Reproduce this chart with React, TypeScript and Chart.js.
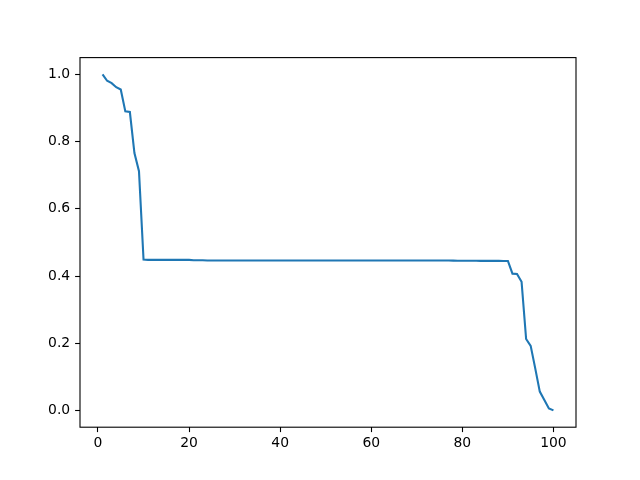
import React, { useEffect, useRef } from "react";
import { Chart, registerables } from "chart.js";

Chart.register(...registerables);

const xValues: number[] = Array.from({ length: 100 }, (_, i) => i + 1);

const headValues: number[] = [1.0, 0.981, 0.974, 0.962, 0.955, 0.89, 0.888, 0.766, 0.712];
const plateauValues: number[] = [
  // x = 10 .. 23
  0.449, 0.448, 0.448, 0.448, 0.448, 0.448, 0.448, 0.448, 0.448, 0.448, 0.448, 0.447, 0.447, 0.447,
  // x = 24 .. 77
  0.446, 0.446, 0.446, 0.446, 0.446, 0.446, 0.446, 0.446, 0.446, 0.446,
  0.446, 0.446, 0.446, 0.446, 0.446, 0.446, 0.446, 0.446, 0.446, 0.446,
  0.446, 0.446, 0.446, 0.446, 0.446, 0.446, 0.446, 0.446, 0.446, 0.446,
  0.446, 0.446, 0.446, 0.446, 0.446, 0.446, 0.446, 0.446, 0.446, 0.446,
  0.446, 0.446, 0.446, 0.446, 0.446, 0.446, 0.446, 0.446, 0.446, 0.446,
  0.446, 0.446, 0.446, 0.446,
  // x = 78 .. 89
  0.4458, 0.4456, 0.4455, 0.4454, 0.4453, 0.4452, 0.4451, 0.445, 0.445, 0.445, 0.4449, 0.4448,
];
const tailValues: number[] = [0.4446, 0.407, 0.406, 0.383, 0.2125, 0.192, 0.125, 0.056, 0.031, 0.006, 0.0];

const yValues: number[] = [...headValues, ...plateauValues, ...tailValues];

const xTicks: number[] = [0, 20, 40, 60, 80, 100];
const yTicks: number[] = [0, 0.2, 0.4, 0.6, 0.8, 1.0];

const FONT = { family: "'DejaVu Sans', sans-serif", size: 13.9 };

const spinesPlugin = {
  id: "spines",
  afterDatasetsDraw(chart: any) {
    const { ctx, chartArea } = chart;
    ctx.save();
    ctx.strokeStyle = "#000";
    ctx.lineWidth = 1.1;
    ctx.strokeRect(chartArea.left, chartArea.top, chartArea.right - chartArea.left, chartArea.bottom - chartArea.top);
    ctx.restore();
  },
};

export default function App() {
  const ref = useRef<HTMLCanvasElement | null>(null);
  useEffect(() => {
    if (!ref.current) return;
    const data = xValues.map((x, i) => ({ x, y: yValues[i] }));
    const chart = new Chart(ref.current, {
      type: "line",
      data: {
        datasets: [
          {
            data,
            borderColor: "#1f77b4",
            borderWidth: 2.1,
            pointRadius: 0,
            fill: false,
            tension: 0,
          },
        ],
      },
      options: {
        animation: false,
        responsive: false,
        maintainAspectRatio: false,
        layout: { padding: { left: 0, right: 64, top: 57.6, bottom: 0 } },
        plugins: { legend: { display: false }, tooltip: { enabled: false } },
        scales: {
          x: {
            type: "linear",
            min: -3.95,
            max: 104.95,
            border: { display: false },
            grid: {
              drawOnChartArea: false,
              drawTicks: true,
              tickLength: 4.9,
              tickColor: "#000",
              tickWidth: 1.1,
              color: "#000",
            },
            ticks: {
              color: "#000",
              font: FONT,
              padding: 3,
              maxRotation: 0,
              callback: (v: any) => String(v),
            },
            afterBuildTicks: (scale: any) => {
              scale.ticks = xTicks.map((v) => ({ value: v }));
            },
            afterFit: (scale: any) => {
              scale.height = 480 - 427.2;
            },
          },
          y: {
            type: "linear",
            min: -0.05,
            max: 1.05,
            border: { display: false },
            grid: {
              drawOnChartArea: false,
              drawTicks: true,
              tickLength: 4.9,
              tickColor: "#000",
              tickWidth: 1.1,
              color: "#000",
            },
            ticks: {
              color: "#000",
              font: FONT,
              padding: 4.9,
              callback: (v: any) => Number(v).toFixed(1),
            },
            afterBuildTicks: (scale: any) => {
              scale.ticks = yTicks.map((v) => ({ value: v }));
            },
            afterFit: (scale: any) => {
              scale.width = 80;
            },
          },
        },
      },
      plugins: [spinesPlugin],
    });
    return () => chart.destroy();
  }, []);

  return (
    <div style={{ position: "fixed", left: 0, top: 0, width: 640, height: 480, background: "#fff" }}>
      <canvas ref={ref} width={640} height={480} style={{ width: 640, height: 480, display: "block" }} />
    </div>
  );
}
